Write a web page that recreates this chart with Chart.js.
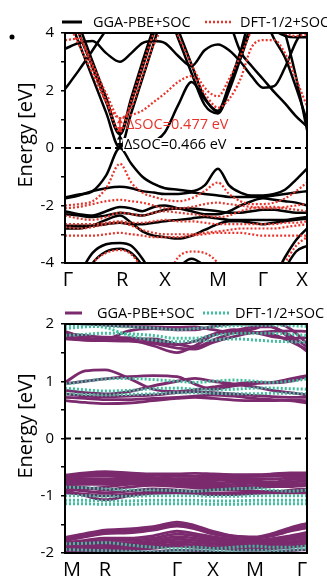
<!DOCTYPE html>
<html>
<head>
<meta charset="utf-8">
<script src="https://cdn.jsdelivr.net/npm/chart.js@4.4.1/dist/chart.umd.min.js"></script>
<style>
  body { margin: 0; background: #fff; }
  #wrap { position: relative; width: 327px; height: 578px; }
  canvas { position: absolute; left: 0; }
</style>
</head>
<body>
<div id="wrap">
  <canvas id="top-chart" width="327" height="300" style="top:0"></canvas>
  <canvas id="bottom-chart" width="327" height="278" style="top:300px"></canvas>
</div>
<script>
// ---- top panel: k-path samples and tick labels ----
const kTop = [0, 0.057, 0.114, 0.170, 0.227, 0.274, 0.320, 0.367, 0.413, 0.468, 0.523,
  0.577, 0.632, 0.678, 0.725, 0.771, 0.818, 0.864, 0.909, 0.955, 1.0];
const topTickPos = [0.012, 0.236, 0.413, 0.632, 0.818, 0.979];
const topTickLabels = ["Γ", "R", "X", "M", "Γ", "X"];

// GGA-PBE+SOC bands (top)
const pbeC1 = [4.9, 3.66, 2.44, 1.23, 0.0, 1.22, 2.42, 3.65, 4.8, 5.2, 5.2, 5.0, 5.0, 5.0, 5.0, 5.0, 4.6, 3.8, 3.15, 2.1, 0.95];
const pbeC2 = [5.3, 4.0, 2.8, 1.6, 0.47, 1.6, 2.8, 4.0, 4.9, 3.8, 2.6, 1.5, 1.2, 2.0, 3.1, 4.2, 5.0, 5.0, 5.0, 5.0, 5.0];
const pbeC3 = [5.6, 4.3, 3.0, 1.75, 0.52, 1.75, 3.0, 4.2, 5.2, 4.1, 2.9, 1.75, 1.3, 2.2, 3.35, 4.5, 4.4, 4.1, 3.9, 3.85, 3.85];
const pbeC4 = [null, null, null, null, null, null, null, 0.2, 0.55, 1.5, 2.3, 1.7, 1.25, 2.1, 3.2, 4.3, 5.0, 5.0, 4.0, 2.45, 0.63];
const pbeC5 = [2.05, 2.7, 3.4, 4.1, 4.7, 5.0, 5.0, 5.0, 5.0, 5.0, 5.0, 5.0, 5.0, 4.4, 3.35, 2.85, 2.4, 1.95, 1.55, 1.1, 0.75];
const pbeC6 = [3.45, 3.65, 3.72, 3.3, 3.0, 3.3, 3.65, 3.72, 3.65, 3.2, 2.85, 3.4, 3.6, 3.4, 3.0, 2.5, 2.1, 2.15, 2.8, 3.7, 4.3];
const pbeV1 = [-1.72, -1.62, -1.5, -0.95, 0.0, -0.55, -1.0, -1.25, -1.4, -1.45, -1.5, -1.3, -0.72, -1.3, -1.55, -1.65, -1.65, -1.6, -1.45, -1.1, -0.72];
const pbeV2 = [-1.75, -1.65, -1.5, -1.4, -1.35, -1.4, -1.5, -1.55, -1.6, -1.6, -1.55, -1.6, -1.65, -1.7, -1.7, -1.7, -1.7, -1.65, -1.6, -1.55, -1.5];
const pbeV3 = [-2.2, -2.3, -2.35, -2.2, -2.05, -2.1, -2.2, -2.05, -2.0, -2.1, -2.2, -2.3, -2.3, -2.2, -2.0, -1.85, -1.75, -1.8, -1.85, -1.9, -2.0];
const pbeV4 = [-2.7, -2.7, -2.7, -2.65, -2.6, -2.65, -2.65, -2.6, -2.55, -2.5, -2.45, -2.4, -2.45, -2.5, -2.5, -2.5, -2.5, -2.5, -2.5, -2.45, -2.4];
const pbeV5 = [-2.8, -2.8, -2.7, -2.5, -2.35, -2.6, -2.9, -3.05, -3.1, -3.15, -3.05, -2.85, -2.65, -2.55, -2.55, -2.6, -2.65, -2.6, -2.55, -2.5, -2.45];
const pbeV6 = [-5.0, -4.4, -3.65, -3.35, -3.3, -3.4, -3.85, -4.5, -5.0, -4.2, -3.85, -4.1, -4.6, -5.0, -5.0, -5.0, -5.0, -4.5, -3.8, -3.2, -2.8];
const pbeV7 = [-5.3, -4.8, -4.0, -3.6, -3.5, -3.65, -4.1, -4.8, -5.3, -4.6, -4.0, -4.3, -4.8, -5.2, -5.4, -5.4, -5.3, -4.9, -4.2, -3.6, -3.4];
const pbeV8 = [-2.3, -2.35, -2.4, -2.35, -2.25, -2.3, -2.35, -2.25, -2.15, -2.1, -2.1, -2.15, -2.2, -2.25, -2.25, -2.2, -2.15, -2.15, -2.2, -2.25, -2.25];

// DFT-1/2+SOC bands (top)
const halfC1 = [3.75, 3.8, 2.9, 1.9, 1.037, 1.4, 2.5, 3.6, 4.3, 4.6, 4.6, 4.6, 4.6, 4.6, 4.6, 4.6, 4.6, 4.3, 4.0, 3.9, 3.95];
const halfC2 = [4.6, 3.6, 2.6, 1.6, 1.037, 1.15, 1.3, 1.6, 1.9, 2.3, 2.5, 1.9, 1.4, 1.7, 2.4, 3.5, 3.75, 3.75, 3.3, 2.4, 1.45];
const halfC3 = [5.3, 4.0, 2.8, 1.65, 0.56, 1.65, 2.85, 4.0, 4.9, 3.9, 2.9, 2.1, 1.8, 2.4, 3.2, 4.1, 5.0, 5.0, 5.0, 5.0, 5.0];
const halfV1 = [-2.0, -1.95, -1.85, -1.4, -0.55, -1.2, -1.55, -1.7, -1.8, -1.85, -1.75, -1.5, -1.2, -1.6, -1.85, -1.95, -1.95, -1.9, -1.75, -1.5, -1.2];
const halfV2 = [-2.1, -2.05, -1.95, -1.85, -1.8, -1.85, -1.9, -2.0, -2.1, -2.1, -2.05, -1.95, -1.9, -1.95, -2.0, -2.05, -2.1, -2.1, -2.05, -2.0, -1.95];
const halfV3 = [-2.35, -2.45, -2.5, -2.4, -2.25, -2.3, -2.35, -2.25, -2.2, -2.25, -2.3, -2.35, -2.4, -2.35, -2.2, -2.1, -2.05, -2.05, -2.1, -2.15, -2.2];
const halfV4 = [-2.65, -2.65, -2.65, -2.6, -2.55, -2.6, -2.6, -2.55, -2.5, -2.55, -2.55, -2.6, -2.65, -2.65, -2.65, -2.65, -2.65, -2.65, -2.6, -2.6, -2.55];
const halfV5 = [-2.75, -2.8, -2.75, -2.65, -2.6, -2.7, -2.85, -2.95, -3.0, -3.0, -3.0, -2.95, -2.9, -2.85, -2.8, -2.8, -2.8, -2.8, -2.75, -2.7, -2.65];
const halfV6 = [-3.05, -3.05, -3.05, -3.0, -2.95, -3.0, -3.05, -3.1, -3.1, -3.1, -3.05, -3.0, -2.95, -2.95, -2.95, -3.0, -3.05, -3.05, -3.05, -3.05, -3.05];
const halfV7 = [-5.0, -4.7, -4.0, -3.65, -3.55, -3.7, -4.2, -4.8, -4.6, -3.8, -3.6, -3.65, -4.0, -4.6, -5.0, -5.0, -5.0, -4.7, -4.0, -3.4, -3.1];

// spin-orbit splitting at R
const socRed = [0.56, 1.037];
const socBlack = [0.0, 0.466];
const socLabels = ["ΔSOC=0.477 eV", "ΔSOC=0.466 eV"];

// ---- bottom panel ----
const kBot = [0, 0.083, 0.165, 0.264, 0.364, 0.463, 0.537, 0.612, 0.698, 0.785, 0.855, 0.930, 1];
const botTickPos = [0.029, 0.165, 0.463, 0.612, 0.785, 0.979];
const botTickLabels = ["M", "R", "Γ", "X", "M", "Γ"];

const pbeB = [
  [1.87, 1.76, 1.72, 1.72, 1.62, 1.5, 1.62, 1.8, 1.88, 1.95, 1.95, 1.75, 1.52],
  [1.8, 1.74, 1.74, 1.88, 1.92, 1.9, 1.9, 1.96, 2.0, 2.0, 1.95, 1.8, 1.6],
  [1.76, 1.72, 1.71, 1.7, 1.66, 1.58, 1.56, 1.68, 1.78, 1.85, 1.82, 1.7, 1.55],
  [1.74, 1.72, 1.71, 1.74, 1.74, 1.65, 1.6, 1.72, 1.85, 1.92, 2.02, 1.92, 1.66],
  [2.02, 2.0, 1.98, 1.96, 1.95, 1.94, 1.95, 1.9, 1.85, 1.85, 1.87, 1.88, 1.87],
  [1.83, 1.8, 1.77, 1.76, 1.7, 1.64, 1.7, 1.82, 1.9, 1.85, 1.78, 1.75, 1.76],
  [0.98, 1.18, 1.2, 1.05, 0.86, 0.82, 0.85, 0.9, 0.95, 0.98, 0.97, 1.0, 1.08],
  [0.96, 1.0, 1.04, 1.08, 1.1, 1.08, 0.95, 0.86, 0.92, 0.96, 0.98, 1.04, 1.1],
  [0.84, 0.8, 0.78, 0.82, 0.92, 1.0, 1.05, 1.0, 0.95, 0.9, 0.84, 0.8, 0.76],
  [0.78, 0.74, 0.73, 0.74, 0.76, 0.8, 0.82, 0.8, 0.78, 0.75, 0.73, 0.72, 0.72],
  [0.66, 0.63, 0.61, 0.62, 0.66, 0.7, 0.72, 0.7, 0.67, 0.66, 0.66, 0.67, 0.66],
  [0.72, 0.7, 0.68, 0.68, 0.7, 0.72, 0.74, 0.76, 0.74, 0.7, 0.68, 0.66, 0.62],
  [-0.64, -0.6, -0.58, -0.6, -0.62, -0.62, -0.61, -0.62, -0.63, -0.63, -0.62, -0.6, -0.6],
  [-0.66, -0.63, -0.62, -0.63, -0.64, -0.66, -0.66, -0.65, -0.65, -0.64, -0.64, -0.62, -0.62],
  [-0.7, -0.66, -0.65, -0.66, -0.68, -0.7, -0.7, -0.68, -0.67, -0.66, -0.66, -0.65, -0.64],
  [-0.72, -0.7, -0.7, -0.69, -0.7, -0.72, -0.73, -0.71, -0.7, -0.7, -0.71, -0.69, -0.67],
  [-0.75, -0.74, -0.74, -0.72, -0.72, -0.74, -0.76, -0.74, -0.72, -0.74, -0.76, -0.72, -0.7],
  [-0.78, -0.76, -0.77, -0.75, -0.74, -0.76, -0.78, -0.78, -0.76, -0.76, -0.78, -0.76, -0.74],
  [-0.8, -0.8, -0.8, -0.78, -0.76, -0.78, -0.8, -0.82, -0.8, -0.78, -0.8, -0.8, -0.78],
  [-0.82, -0.86, -0.9, -0.85, -0.82, -0.84, -0.86, -0.88, -0.88, -0.86, -0.84, -0.84, -0.82],
  [-0.85, -0.88, -0.85, -0.8, -0.79, -0.81, -0.83, -0.85, -0.84, -0.82, -0.82, -0.82, -0.8],
  [-0.88, -0.92, -0.95, -0.92, -0.88, -0.9, -0.92, -0.9, -0.9, -0.92, -0.94, -0.9, -0.88],
  [-0.9, -1.0, -1.07, -1.0, -0.96, -0.95, -0.96, -0.98, -0.98, -0.96, -0.95, -0.95, -0.95],
  [-0.95, -0.97, -1.0, -0.97, -0.93, -0.92, -0.94, -0.96, -0.95, -0.93, -0.92, -0.93, -0.92],
  [-1.73, -1.66, -1.6, -1.58, -1.54, -1.46, -1.52, -1.62, -1.7, -1.72, -1.66, -1.56, -1.48],
  [-1.75, -1.69, -1.63, -1.62, -1.57, -1.5, -1.55, -1.64, -1.71, -1.73, -1.68, -1.59, -1.52],
  [-1.78, -1.72, -1.66, -1.65, -1.6, -1.53, -1.58, -1.67, -1.72, -1.74, -1.7, -1.62, -1.56],
  [-1.82, -1.78, -1.74, -1.74, -1.7, -1.62, -1.66, -1.72, -1.76, -1.78, -1.75, -1.7, -1.64],
  [-1.85, -1.81, -1.78, -1.78, -1.74, -1.67, -1.7, -1.75, -1.78, -1.8, -1.78, -1.73, -1.68],
  [-1.87, -1.84, -1.82, -1.82, -1.78, -1.72, -1.74, -1.78, -1.8, -1.82, -1.8, -1.76, -1.72],
  [-1.91, -1.88, -1.86, -1.85, -1.82, -1.76, -1.78, -1.82, -1.83, -1.85, -1.83, -1.8, -1.76],
  [-1.94, -1.92, -1.9, -1.88, -1.85, -1.8, -1.82, -1.85, -1.86, -1.88, -1.86, -1.83, -1.8],
  [-1.98, -1.95, -1.94, -1.92, -1.89, -1.84, -1.86, -1.89, -1.9, -1.92, -1.9, -1.87, -1.84],
  [-2.0, -1.98, -1.97, -1.95, -1.92, -1.88, -1.9, -1.92, -1.94, -1.95, -1.93, -1.9, -1.87],
  [-2.05, -2.04, -2.02, -2.0, -1.98, -1.95, -1.96, -1.98, -2.0, -2.0, -1.99, -1.96, -1.94]
];
const halfB = [
  [1.92, 1.95, 1.96, 1.95, 1.93, 1.9, 1.92, 1.95, 1.97, 1.98, 1.98, 1.97, 1.96],
  [1.8, 1.82, 1.84, 1.83, 1.8, 1.75, 1.75, 1.8, 1.83, 1.84, 1.84, 1.82, 1.8],
  [1.98, 1.97, 1.94, 1.8, 1.72, 1.69, 1.7, 1.72, 1.74, 1.72, 1.7, 1.69, 1.68],
  [0.95, 1.0, 1.04, 1.05, 1.03, 1.0, 0.98, 1.0, 1.02, 1.0, 0.98, 1.0, 1.04],
  [0.88, 0.85, 0.83, 0.84, 0.87, 0.88, 0.86, 0.85, 0.86, 0.88, 0.88, 0.87, 0.86],
  [0.78, 0.77, 0.76, 0.77, 0.78, 0.8, 0.8, 0.79, 0.78, 0.78, 0.79, 0.79, 0.78],
  [-0.85, -0.86, -0.88, -0.9, -0.9, -0.91, -0.92, -0.9, -0.88, -0.87, -0.9, -0.92, -0.9],
  [-1.0, -1.0, -1.01, -1.01, -1.0, -1.0, -1.0, -1.01, -1.01, -1.0, -1.0, -1.0, -1.0],
  [-1.08, -1.08, -1.09, -1.09, -1.08, -1.08, -1.08, -1.09, -1.09, -1.08, -1.08, -1.08, -1.08],
  [-1.14, -1.14, -1.15, -1.15, -1.14, -1.14, -1.14, -1.15, -1.15, -1.14, -1.14, -1.14, -1.14],
  [-1.84, -1.83, -1.82, -1.86, -1.9, -1.92, -1.9, -1.92, -1.9, -1.88, -1.9, -1.9, -1.88],
  [-1.94, -1.95, -1.96, -1.97, -1.98, -1.96, -1.95, -1.96, -1.96, -1.95, -1.96, -1.95, -1.93]
];

const legendLabels = ["GGA-PBE+SOC", "DFT-1/2+SOC"];
const yTitle = "Energy [eV]";

const FONT = "'Open Sans', sans-serif";
Chart.defaults.font.family = FONT;
Chart.defaults.color = "#000";

function pts(k, e) {
  return k.map((x, i) => ({ x: x, y: e[i] }));
}

function bandSets(k, bands, style) {
  return bands.map((e) => Object.assign({ data: pts(k, e) }, style));
}

const lineBase = { pointRadius: 0, cubicInterpolationMode: "monotone", fill: false };
const pbeStyle = Object.assign({ borderColor: "#000", borderWidth: 2.5, order: 2 }, lineBase);
const halfStyle = Object.assign({ borderColor: "#e8352c", borderWidth: 2.2, borderDash: [2, 2], order: 1 }, lineBase);
const purpleStyle = Object.assign({ borderColor: "#7b2a6d", borderWidth: 2.8, order: 2 }, lineBase);
const tealStyle = Object.assign({ borderColor: "#3dbf9c", borderWidth: 3, borderDash: [2, 2], order: 1 }, lineBase);

// frame, zero line, legend, axis title
const decor = {
  id: "decor",
  afterDatasetsDraw(chart, args, opts) {
    const { ctx, chartArea: a, scales } = chart;
    const y0 = scales.y.getPixelForValue(0);
    ctx.save();
    ctx.strokeStyle = "#000";
    ctx.lineWidth = 2;
    ctx.setLineDash([6, 4]);
    ctx.beginPath();
    ctx.moveTo(a.left, y0);
    ctx.lineTo(a.right, y0);
    ctx.stroke();
    ctx.setLineDash([]);
    ctx.strokeRect(a.left, a.top, a.right - a.left, a.bottom - a.top);

    if (opts.notes) opts.notes(chart, ctx);

    // legend
    ctx.font = "14.5px " + FONT;
    ctx.textBaseline = "middle";
    ctx.textAlign = "left";
    opts.legend.forEach((it, i) => {
      ctx.strokeStyle = it.color;
      ctx.lineWidth = it.width;
      ctx.setLineDash(it.dash || []);
      ctx.beginPath();
      ctx.moveTo(it.x0, opts.legendY);
      ctx.lineTo(it.x1, opts.legendY);
      ctx.stroke();
      ctx.setLineDash([]);
      ctx.fillStyle = "#000";
      ctx.fillText(legendLabels[i], it.tx, opts.legendY + 1);
    });

    // y title
    ctx.translate(26, opts.titleY);
    ctx.rotate(-Math.PI / 2);
    ctx.font = "20px " + FONT;
    ctx.textAlign = "center";
    ctx.fillText(yTitle, 0, 0);
    ctx.restore();
  }
};

function arrow(ctx, x, ya, yb, color) {
  ctx.strokeStyle = color;
  ctx.fillStyle = color;
  ctx.lineWidth = 1.5;
  ctx.beginPath();
  ctx.moveTo(x, ya);
  ctx.lineTo(x, yb);
  ctx.stroke();
  [[ya, 1], [yb, -1]].forEach(([y, d]) => {
    ctx.beginPath();
    ctx.moveTo(x, y);
    ctx.lineTo(x - 3, y + d * 5);
    ctx.lineTo(x + 3, y + d * 5);
    ctx.closePath();
    ctx.fill();
  });
}

function socNotes(chart, ctx) {
  const xs = chart.scales.x, ys = chart.scales.y;
  const xr = xs.getPixelForValue(kTop[4]);
  arrow(ctx, xr, ys.getPixelForValue(socRed[1]), ys.getPixelForValue(socRed[0]), "#e8352c");
  arrow(ctx, xr, ys.getPixelForValue(socBlack[1]), ys.getPixelForValue(socBlack[0]), "#000");
  ctx.font = "14.5px " + FONT;
  ctx.textBaseline = "middle";
  ctx.textAlign = "left";
  const yRed = (ys.getPixelForValue(socRed[0]) + ys.getPixelForValue(socRed[1])) / 2;
  ctx.fillStyle = "#e8352c";
  ctx.fillText(socLabels[0], xr + 6, yRed);
  const yBlk = ys.getPixelForValue(socBlack[0]) - 3;
  const w = ctx.measureText(socLabels[1]).width;
  ctx.fillStyle = "#fff";
  ctx.fillRect(xr + 3, yBlk - 7, w + 6, 13);
  ctx.fillStyle = "#000";
  ctx.fillText(socLabels[1], xr + 4, yBlk);
  // panel mark
  ctx.beginPath();
  ctx.arc(12, 37, 2.5, 0, 2 * Math.PI);
  ctx.fill();
}

function makeChart(id, cfg) {
  return new Chart(document.getElementById(id), {
    type: "line",
    data: { datasets: cfg.datasets },
    options: {
      responsive: false,
      animation: false,
      events: [],
      layout: { padding: { top: cfg.padTop, right: 20, left: 0, bottom: 0 } },
      plugins: {
        legend: { display: false },
        tooltip: { enabled: false },
        decor: cfg.decor
      },
      scales: {
        x: {
          type: "linear",
          min: 0,
          max: 1,
          afterFit: (s) => { s.height = cfg.xHeight; },
          afterBuildTicks: (s) => { s.ticks = cfg.tickPos.map((v) => ({ value: v })); },
          ticks: {
            callback: (v, i) => cfg.tickLabels[i],
            font: { size: 20 },
            padding: 5,
            maxRotation: 0,
            autoSkip: false
          },
          grid: { display: false, drawTicks: false },
          border: { display: false }
        },
        y: {
          min: cfg.yMin,
          max: cfg.yMax,
          afterFit: (s) => { s.width = 65; },
          ticks: {
            stepSize: cfg.yStep,
            callback: (v) => (v % cfg.yLabelEvery === 0 ? String(v) : ""),
            font: { size: 15 },
            padding: 7
          },
          grid: { drawOnChartArea: false, tickLength: 4, color: "#000", lineWidth: 1.5 },
          border: { display: false }
        }
      }
    },
    plugins: [decor]
  });
}

makeChart("top-chart", {
  datasets: bandSets(kTop, [pbeC1, pbeC2, pbeC3, pbeC4, pbeC5, pbeC6, pbeV1, pbeV2, pbeV3, pbeV4, pbeV5, pbeV6, pbeV7, pbeV8], pbeStyle)
    .concat(bandSets(kTop, [halfC1, halfC2, halfC3, halfV1, halfV2, halfV3, halfV4, halfV5, halfV6, halfV7], halfStyle)),
  padTop: 33,
  xHeight: 37,
  yMin: -4, yMax: 4, yStep: 1, yLabelEvery: 2,
  tickPos: topTickPos,
  tickLabels: topTickLabels,
  decor: {
    legendY: 22,
    titleY: 135,
    notes: socNotes,
    legend: [
      { x0: 62, x1: 82, tx: 93, color: "#000", width: 3 },
      { x0: 205, x1: 232, tx: 240, color: "#e8352c", width: 2.5, dash: [2, 2] }
    ]
  }
});

makeChart("bottom-chart", {
  datasets: bandSets(kBot, pbeB, purpleStyle).concat(bandSets(kBot, halfB, tealStyle)),
  padTop: 24,
  xHeight: 25,
  yMin: -2, yMax: 2, yStep: 0.5, yLabelEvery: 1,
  tickPos: botTickPos,
  tickLabels: botTickLabels,
  decor: {
    legendY: 13,
    titleY: 126,
    legend: [
      { x0: 65, x1: 82, tx: 97, color: "#7b2a6d", width: 3 },
      { x0: 203, x1: 230, tx: 235, color: "#3dbf9c", width: 3, dash: [2, 2] }
    ]
  }
});
</script>
</body>
</html>
